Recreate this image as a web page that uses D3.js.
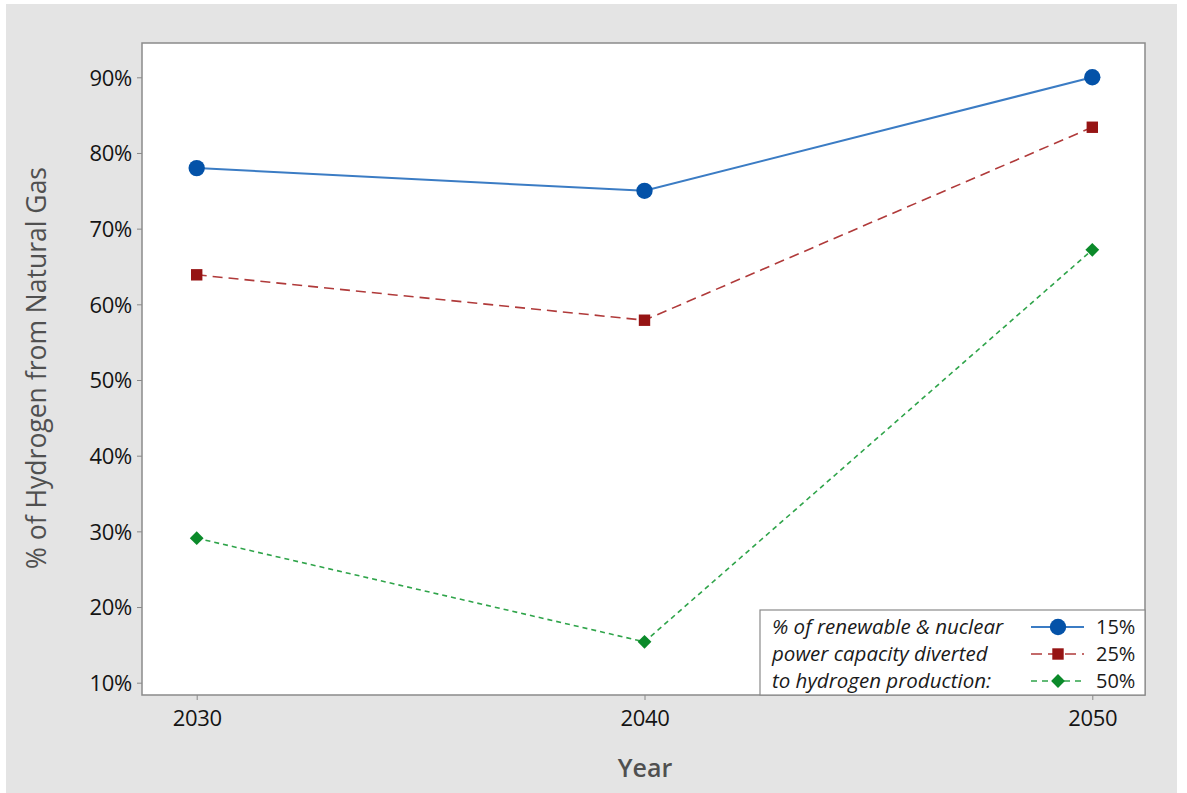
<!DOCTYPE html>
<html><head><meta charset="utf-8">
<script src="https://cdn.jsdelivr.net/npm/d3@7"></script>
<style>body{margin:0;background:#fff;} text{font-family:"Open Sans","Noto Sans",sans-serif;}</style>
</head><body><svg id="c" width="1187" height="793"></svg>
<script>
const years = [2030, 2040, 2050];
const s15 = [78.0, 75.0, 90.0];
const s25 = [63.9, 57.9, 83.4];
const s50 = [29.1, 15.4, 67.2];
const seriesNames = ["15%", "25%", "50%"];
const yTicks = [10, 20, 30, 40, 50, 60, 70, 80, 90];
const legendTitle = ["% of renewable & nuclear", "power capacity diverted", "to hydrogen production:"];

const svg = d3.select("#c");
svg.append("rect").attr("x",6).attr("y",4).attr("width",1171).attr("height",789).attr("fill","#e4e4e4");
const L=142,R=1145,T=43,B=695;
svg.append("rect").attr("x",L).attr("y",T).attr("width",R-L).attr("height",B-T).attr("fill","#fff");

const x = d3.scaleLinear().domain([2030,2050]).range([196.7,1092.3]);
const y = d3.scaleLinear().domain([10,90]).range([682.7,77.3]);

const yAx = svg.append("g").attr("transform",`translate(${L},0)`)
  .call(d3.axisLeft(y).tickValues(yTicks).tickFormat(d=>d+"%").tickSize(5).tickPadding(5));
const xAx = svg.append("g").attr("transform",`translate(0,${B})`)
  .call(d3.axisBottom(x).tickValues(years).tickFormat(d3.format("d")).tickSize(5).tickPadding(10));
[yAx,xAx].forEach(g=>{
  g.select(".domain").remove();
  g.selectAll("line").attr("stroke","#888");
  g.selectAll("text").attr("font-size",22).attr("fill","#141414").attr("font-family","'Open Sans',sans-serif")
    .attr("font-weight",500).attr("letter-spacing","-0.3");
});
xAx.selectAll("text").attr("dy","0.71em");
yAx.selectAll("text").attr("dy","0.36em");

svg.append("rect").attr("x",L).attr("y",T).attr("width",R-L).attr("height",B-T)
  .attr("fill","none").attr("stroke","#8a8a8a").attr("stroke-width",1.5);

svg.append("text").attr("transform","translate(46,368) rotate(-90)").attr("text-anchor","middle")
  .attr("font-size",26.5).attr("fill","#505050").text("% of Hydrogen from Natural Gas");
svg.append("text").attr("x",645).attr("y",777).attr("text-anchor","middle")
  .attr("font-size",25).attr("fill","#505050").attr("font-weight","600").text("Year");

const styles = [
  {data:s15, line:"#3b7cc4", fill:"#0452a8", dash:null, w:2, sym:d3.symbolCircle, size:210, rot:0},
  {data:s25, line:"#b03a3a", fill:"#961414", dash:"10,6", w:1.6, sym:d3.symbolSquare, size:130, rot:0},
  {data:s50, line:"#2fa44a", fill:"#0b8a2a", dash:"5,4", w:1.6, sym:d3.symbolSquare, size:95, rot:45}
];
const line = d3.line().x((d,i)=>x(years[i])).y(d=>y(d));
styles.forEach(s=>{
  svg.append("path").datum(s.data).attr("d",line).attr("fill","none")
    .attr("stroke",s.line).attr("stroke-width",s.w).attr("stroke-dasharray",s.dash);
  svg.selectAll(null).data(s.data).enter().append("path")
    .attr("d",d3.symbol().type(s.sym).size(s.size))
    .attr("transform",(d,i)=>`translate(${x(years[i])},${y(d)}) rotate(${s.rot})`)
    .attr("fill",s.fill);
});

// legend
const lg = svg.append("g");
lg.append("rect").attr("x",760).attr("y",610).attr("width",R-760).attr("height",B-610)
  .attr("fill","#fff").attr("stroke","#8a8a8a").attr("stroke-width",1.2);
const rows=[627,654,681];
legendTitle.forEach((t,i)=>{
  lg.append("text").attr("x",772).attr("y",rows[i]).attr("dy","0.35em").attr("font-size",20.5)
    .attr("font-style","italic").attr("fill","#1a1a1a").text(t);
});
styles.forEach((s,i)=>{
  lg.append("line").attr("x1",1031).attr("x2",1084).attr("y1",rows[i]).attr("y2",rows[i])
    .attr("stroke",s.line).attr("stroke-width",s.w).attr("stroke-dasharray",s.dash? (i==1?"11,6":"6,5"):null);
  lg.append("path").attr("d",d3.symbol().type(s.sym).size(s.size))
    .attr("transform",`translate(1058,${rows[i]}) rotate(${s.rot})`).attr("fill",s.fill);
  lg.append("text").attr("x",1096).attr("y",rows[i]).attr("dy","0.35em").attr("font-size",20)
    .attr("fill","#1a1a1a").text(seriesNames[i]);
});
</script></body></html>
